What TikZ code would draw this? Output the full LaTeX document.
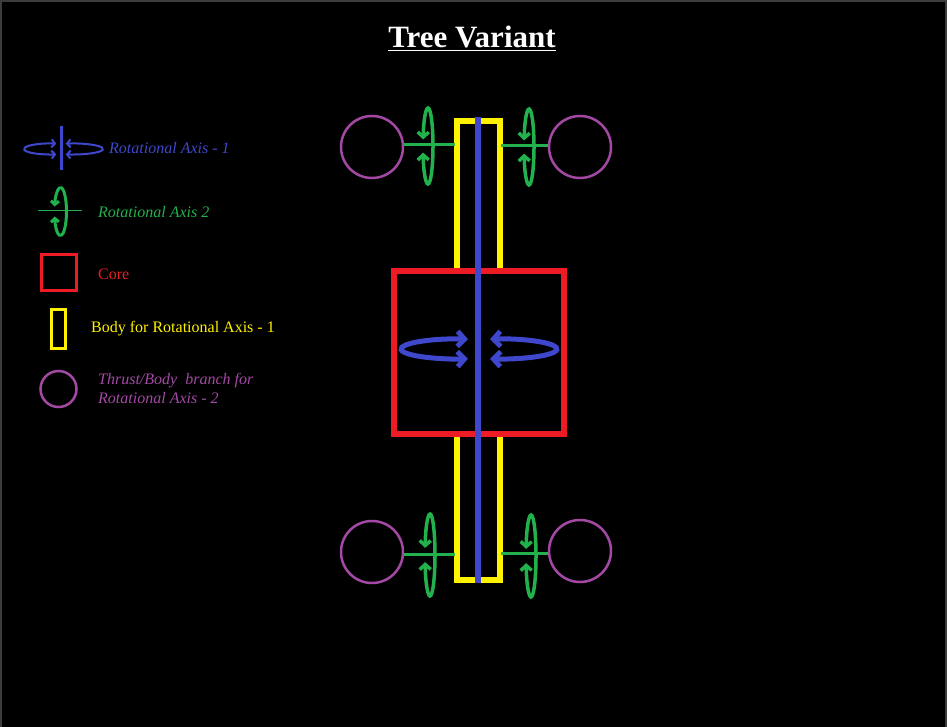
\documentclass[tikz,border=0pt]{standalone}
\usepackage{fontspec}
\setmainfont{Liberation Serif}
\usetikzlibrary{arrows.meta}
\definecolor{pblue}{HTML}{3F48CC}
\definecolor{pgreen}{HTML}{22B14C}
\definecolor{pred}{HTML}{ED1C24}
\definecolor{pyellow}{HTML}{FFF200}
\definecolor{ppurple}{HTML}{A349A4}
\definecolor{frame}{HTML}{3C3C3C}
\tikzset{
  x=1pt, y=1pt,
  bigarrow/.style={{Straight Barb[length=7pt,width=15pt]}-{Straight Barb[length=7pt,width=15pt]}},
  rotarrow/.style={{Straight Barb[length=5pt,width=11pt]}-{Straight Barb[length=5pt,width=11pt]}},
  smallarrow/.style={{Straight Barb[length=3.5pt,width=8pt]}-{Straight Barb[length=3.5pt,width=8pt]}},
  branch/.style={draw=ppurple, line width=2.5pt, circle, minimum size=62pt, inner sep=0pt},
  legtext/.style={anchor=west, font=\fontsize{16}{19}\selectfont, inner sep=0pt},
}
\begin{document}
\begin{tikzpicture}
\useasboundingbox (0,0) rectangle (947,-727);
\fill[black] (0,0) rectangle (947,-727);
\draw[frame, line width=2pt] (1,-727) -- (1,-1) -- (946,-1) -- (946,-727);

% title
\node[anchor=base, text=white, font=\fontsize{31}{36}\selectfont\bfseries, inner sep=0pt] (title) at (472,-48) {\underline{Tree Variant}};

% ---------- main assembly ----------
\node[draw=pyellow, line width=6pt, minimum width=43pt, minimum height=459pt, inner sep=0pt] (body) at (478,-350.5) {};
\node[draw=pred, line width=6pt, fill=black, minimum width=170pt, minimum height=163pt, inner sep=0pt] (core) at (479,-352.5) {};
\coordinate (axtop) at (478,-117);
\coordinate (axbot) at (478,-583);
\draw[pblue, line width=6pt] (axtop) -- (axbot);

% blue rotation arrows in core
\draw[pblue, line width=5pt, bigarrow] (458,-349) ++(80:57pt and 10pt) arc[start angle=80, end angle=280, x radius=57, y radius=10];
\draw[pblue, line width=5pt, bigarrow] (500,-349) ++(100:57pt and 10pt) arc[start angle=100, end angle=-100, x radius=57, y radius=10];

% branches
\node[branch] (tl) at (372,-147) {};
\node[branch] (tr) at (580,-147) {};
\node[branch] (bl) at (372,-552) {};
\node[branch] (br) at (580,-551) {};

\coordinate (tlb) at (455,-145);
\coordinate (trb) at (501,-146);
\coordinate (blb) at (455,-554);
\coordinate (brb) at (501,-553);
\draw[pgreen, line width=3pt] (tlb -| tl.east) -- (tlb);
\draw[pgreen, line width=3pt] (trb) -- (trb -| tr.west);
\draw[pgreen, line width=3pt] (blb -| bl.east) -- (blb);
\draw[pgreen, line width=3pt] (brb) -- (brb -| br.west);

% green rotation arrows
\draw[pgreen, line width=3.5pt, rotarrow] (428,-146) ++(190:5pt and 38pt) arc[start angle=190, end angle=530, x radius=5, y radius=38];
\draw[pgreen, line width=3.5pt, rotarrow] (529,-147) ++(190:5pt and 38pt) arc[start angle=190, end angle=530, x radius=5, y radius=38];
\draw[pgreen, line width=3.5pt, rotarrow] (430,-555) ++(190:5pt and 41pt) arc[start angle=190, end angle=530, x radius=5, y radius=41];
\draw[pgreen, line width=3.5pt, rotarrow] (531,-556) ++(190:5pt and 41pt) arc[start angle=190, end angle=530, x radius=5, y radius=41];

% ---------- legend ----------
\coordinate (l1t) at (61,-126);
\coordinate (l1b) at (61,-170);
\draw[pblue, line width=3pt] (l1t) -- (l1b);
\draw[pblue, line width=2pt, smallarrow] (50,-149) ++(76:26pt and 5.5pt) arc[start angle=76, end angle=284, x radius=26, y radius=5.5];
\draw[pblue, line width=2pt, smallarrow] (73,-149) ++(104:30pt and 5.5pt) arc[start angle=104, end angle=-104, x radius=30, y radius=5.5];
\node[legtext, text=pblue, font=\fontsize{16}{19}\selectfont\itshape] (t1) at (109,-148) {Rotational Axis - 1};

\coordinate (l2a) at (38,-211);
\coordinate (l2b) at (82,-211);
\draw[pgreen, line width=1pt] (l2a) -- (l2b);
\draw[pgreen, line width=3pt, smallarrow] (60.5,-211.5) ++(192:6pt and 24pt) arc[start angle=192, end angle=528, x radius=6, y radius=24];
\node[legtext, text=pgreen, font=\fontsize{16}{19}\selectfont\itshape] (t2) at (98,-212) {Rotational Axis 2};

\node[draw=pred, line width=3pt, minimum width=35pt, minimum height=36pt, inner sep=0pt] (lcore) at (58.5,-272.5) {};
\node[legtext, text=pred] (t3) at (98,-274) {Core};

\node[draw=pyellow, line width=3pt, minimum width=14pt, minimum height=39pt, inner sep=0pt] (lbody) at (58.5,-329) {};
\node[legtext, text=pyellow] (t4) at (91,-329) {Body for Rotational Axis - 1};

\node[draw=ppurple, line width=2.5pt, circle, minimum size=36pt, inner sep=0pt] (lbranch) at (58.5,-389) {};
\node[legtext, text=ppurple, font=\fontsize{16}{19}\selectfont\itshape, align=left, anchor=north west] (t5) at (98,-373) {Thrust/Body\ \ branch for\\Rotational Axis - 2};
\end{tikzpicture}
\end{document}
